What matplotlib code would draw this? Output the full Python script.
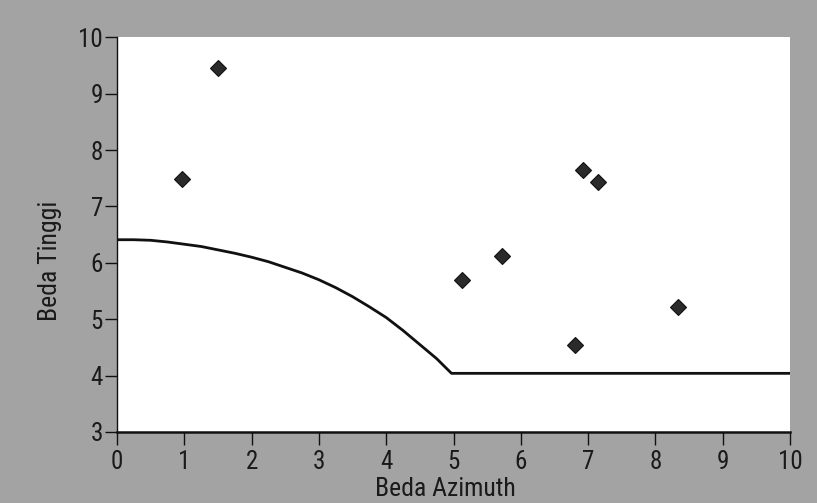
import matplotlib
matplotlib.use("Agg")
import matplotlib.pyplot as plt
from matplotlib import font_manager

# measured points (Beda Azimuth, Beda Tinggi)
azimuth = [0.97, 1.50, 5.12, 5.72, 6.80, 6.93, 7.15, 8.33]
tinggi = [7.48, 9.45, 5.70, 6.12, 4.55, 7.65, 7.43, 5.22]

# boundary curve
curve_x = [0.0, 0.25, 0.5, 0.75, 1.0, 1.25, 1.5, 1.75, 2.0, 2.25, 2.5, 2.75,
           3.0, 3.25, 3.5, 3.75, 4.0, 4.25, 4.5, 4.75, 4.97, 10.0]
curve_y = [6.41, 6.41, 6.40, 6.37, 6.33, 6.29, 6.23, 6.17, 6.10, 6.02, 5.92, 5.82,
           5.70, 5.56, 5.40, 5.22, 5.03, 4.80, 4.55, 4.30, 4.04, 4.04]

# a narrow sans is closest to the original; use one if the system has it
names = {f.name for f in font_manager.fontManager.ttflist}
narrow = [n for n in ['Liberation Sans Narrow', 'Roboto Condensed',
                      'Open Sans Condensed', 'DejaVu Sans Condensed'] if n in names]
plt.rcParams['font.family'] = narrow[:1] + ['DejaVu Sans']
if not narrow:
    plt.rcParams['font.stretch'] = 'condensed'
big = 18.5 if narrow else 13.5
small = 18 if narrow else 13

fig = plt.figure(figsize=(8.17, 5.03), dpi=100, facecolor='#a3a3a3')
ax = fig.add_axes([0.1432, 0.1412, 0.8238, 0.7846])
ax.set_facecolor('white')

ax.plot(curve_x, curve_y, color='#111111', lw=2.0, solid_joinstyle='round', zorder=2)
ax.plot(azimuth, tinggi, 'D', ms=8, color='#2a2a2a', mec='#111111', mew=0.8, zorder=3)

ax.set_xlim(0, 10)
ax.set_ylim(3, 10)
ax.set_xticks(range(0, 11))
ax.set_yticks(range(3, 11))

for s in ['top', 'right']:
    ax.spines[s].set_visible(False)
ax.spines['bottom'].set_linewidth(1.8)
ax.spines['left'].set_linewidth(1.0)
ax.spines['bottom'].set_color('#111111')
ax.spines['left'].set_color('#111111')

ax.tick_params(direction='out', length=9, width=1.0, colors='#111111',
               labelsize=small, labelcolor='#1a1a1a')
ax.tick_params(axis='x', pad=4)
ax.tick_params(axis='y', pad=1)

ax.set_xlabel('Beda Azimuth', fontsize=big, color='#1a1a1a')
ax.set_ylabel('Beda Tinggi', fontsize=big, color='#1a1a1a')
ax.xaxis.set_label_coords(0.488, -0.115)
ax.yaxis.set_label_coords(-0.082, 0.433)

fig.savefig('out.png', dpi=100, facecolor=fig.get_facecolor())
